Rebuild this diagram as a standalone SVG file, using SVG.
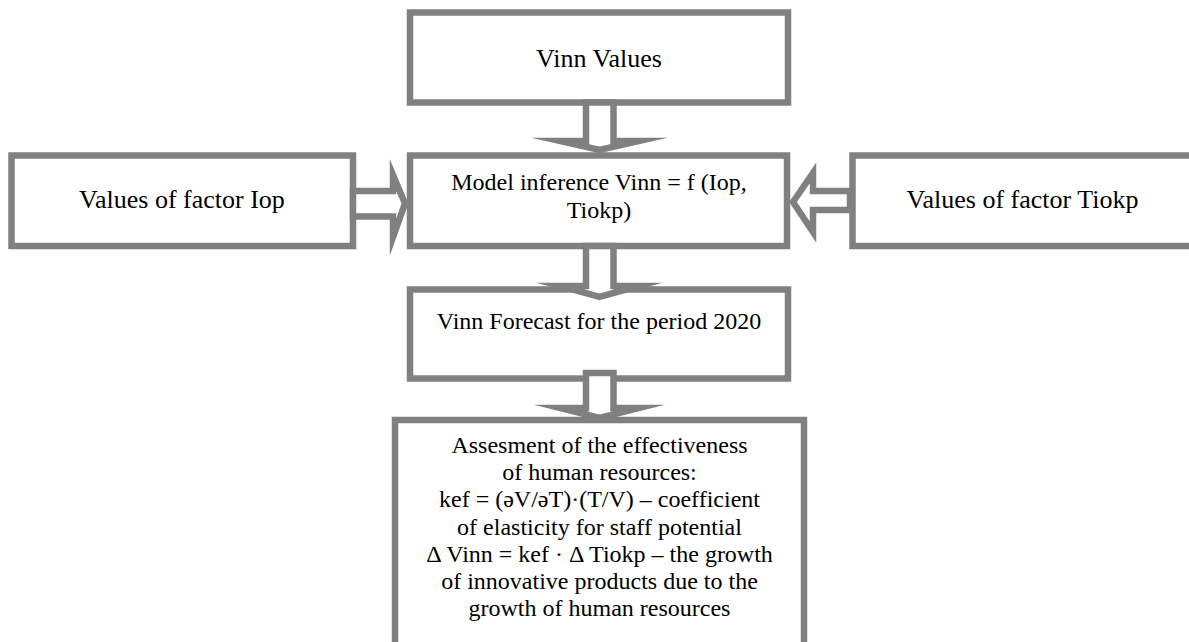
<svg xmlns="http://www.w3.org/2000/svg" width="1189" height="642" viewBox="0 0 1189 642">
<style>
.box{fill:#fff;stroke:#808080;stroke-width:6.5}
.arr{fill:#fff;stroke:#808080;stroke-width:6.5;stroke-linejoin:miter;stroke-miterlimit:10}
.lbl{font-family:'Liberation Serif','DejaVu Serif',serif;fill:#000;text-anchor:middle}
.t26{font-size:26px}
.t24{font-size:24px}
</style>
<rect width="1189" height="642" fill="#fff"/>
<g id="node-vinn-values">
<rect class="box" x="410" y="12.5" width="378" height="90"/>
<text class="lbl t26" x="599" y="67">Vinn Values</text>
</g>
<g id="node-iop">
<rect class="box" x="11.5" y="155.5" width="341.5" height="90.5"/>
<text class="lbl t26" x="182" y="208">Values of factor Iop</text>
</g>
<g id="node-tiokp">
<rect class="box" x="852.5" y="155.5" width="345" height="90.5"/>
<text class="lbl t26" x="1022.5" y="208">Values of factor Tiokp</text>
</g>
<g id="node-model">
<rect class="box" x="410" y="155.5" width="377" height="90.5"/>
<text class="lbl t24" x="599" y="190">Model inference Vinn = f (Iop,</text>
<text class="lbl t24" x="599" y="218">Tiokp)</text>
</g>
<g id="node-forecast">
<rect class="box" x="410" y="289.5" width="378" height="89"/>
<text class="lbl t24" x="599" y="329">Vinn Forecast for the period 2020</text>
</g>
<g id="node-assessment">
<rect class="box" x="395" y="420" width="409" height="240"/>
<g class="lbl t24">
<text x="599.5" y="453">Assesment of the effectiveness</text>
<text x="599.5" y="480.2">of human resources:</text>
<text x="599.5" y="507.4">kef = (əV/əT)·(T/V) – coefficient</text>
<text x="599.5" y="534.6">of elasticity for staff potential</text>
<text x="599.5" y="561.8">Δ Vinn = kef · Δ Tiokp – the growth</text>
<text x="599.5" y="589">of innovative products due to the</text>
<text x="599.5" y="616.2">growth of human resources</text>
</g>
</g>
<g id="connectors">
<polygon class="arr" points="586,102.5 586,141 560,141 599.5,150 639,141 613.5,141 613.5,102.5"/>
<polygon class="arr" points="586,246 586,286 560,286 599.5,297 639,286 613.5,286 613.5,246"/>
<polygon class="arr" points="586,373 586,408 560,408 599.5,418 639,408 613.5,408 613.5,373"/>
<polygon class="arr" points="353,191 393,191 393,175 405,203.5 393,237 393,216.5 353,216.5"/>
<polygon class="arr" points="850,191 813,191 813,173 793,202 813,232 813,210 850,210"/>
</g>
</svg>
